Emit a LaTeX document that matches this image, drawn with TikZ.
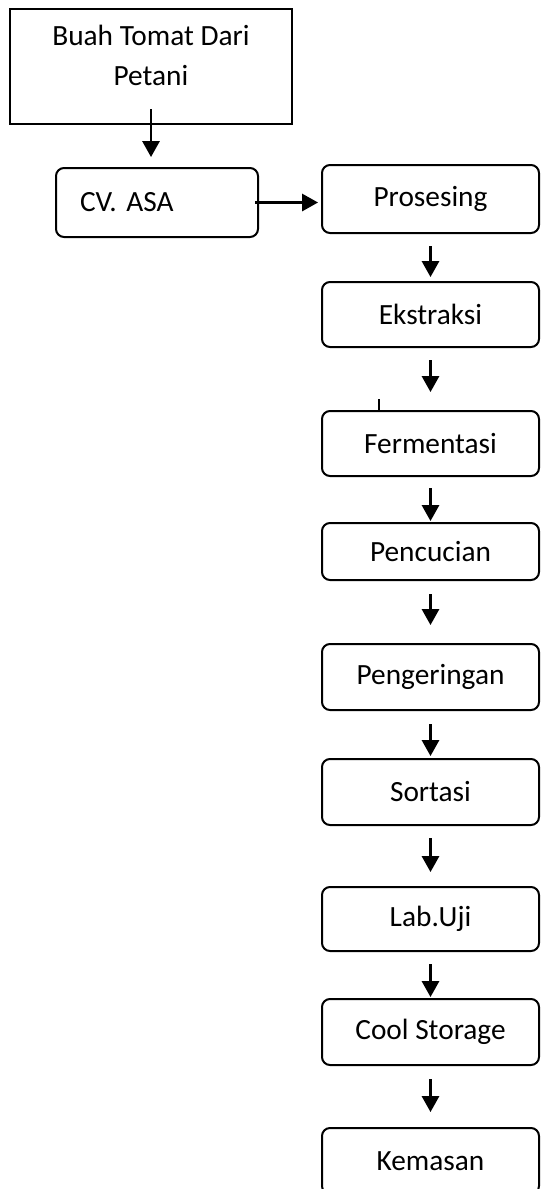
\documentclass[tikz,border=0pt]{standalone}
\usepackage{fontspec}
\setmainfont{Carlito}
\usetikzlibrary{arrows.meta}

\begin{document}
\begin{tikzpicture}[x=0.75pt, y=-0.75pt, font=\fontsize{22}{30}\selectfont,
    plainbox/.style={draw, line width=1.5pt, inner sep=0pt},
    stagebox/.style={draw, line width=1.5pt, rounded corners=6pt, inner sep=0pt,
        minimum width=162.75pt, minimum height=48.75pt},
    flow/.style={-{Triangle[width=13pt, length=12pt]}, line width=1.6pt}]
    \useasboundingbox (0,0) rectangle (540,1189);

    % asal bahan
    \node[plainbox, minimum width=211.5pt, minimum height=86.25pt, align=center,
        text depth=17pt] (petani) at (151,66.5) {Buah Tomat Dari\\Petani};
    \node[stagebox, minimum width=151.5pt, minimum height=51.75pt,
        text width=115.5pt, inner xsep=18pt, align=left] (asa) at (157,202.5) {CV.\ ASA};

    % tahapan proses
    \foreach \nm/\yy/\hh/\txt in {pros/199/51/Prosesing, ekst/314.5/48.75/Ekstraksi,
        ferm/443.5/48.75/Fermentasi, penc/551.5/42.75/Pencucian,
        peng/677/49.5/Pengeringan, sort/792/49.5/Sortasi, lab/919/48/Lab.Uji,
        cool/1032/49.5/Cool Storage, kem/1161/49.5/Kemasan} {
        \node[stagebox, minimum height=\hh pt] (\nm) at (430.5,\yy) {\txt};
    }

    % panah
    \draw[flow, shorten <=-12pt, shorten >=7.5pt] (petani.south) -- (petani.south |- asa.north);
    \draw[flow, shorten <=-3pt, shorten >=2.25pt] (asa.east) -- (asa.east -| pros.west);
    \foreach \a/\b/\s/\e in {pros/ekst/9/3, ekst/ferm/9/13.5, ferm/penc/8.25/0.75,
        penc/peng/9.75/13.5, peng/sort/9.75/1.5, sort/lab/9/10.5,
        lab/cool/9/0.75, cool/kem/9.75/11.25} {
        \draw[flow, shorten <=\s pt, shorten >=\e pt] (\a) -- (\b);
    }
    \draw[line width=1.5pt] ([xshift=-38.6pt]ferm.north) -- ++(0,-11);
\end{tikzpicture}
\end{document}
